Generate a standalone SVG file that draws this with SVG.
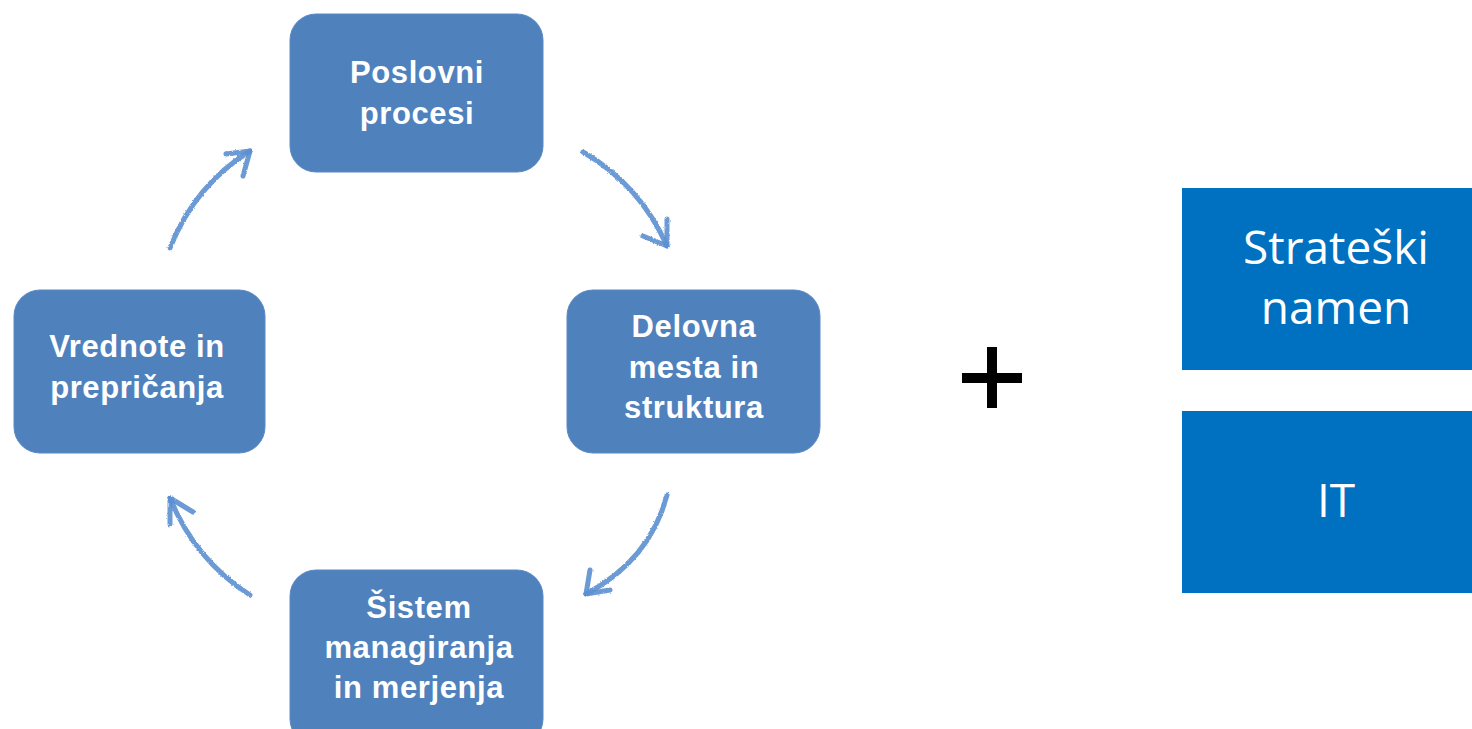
<svg xmlns="http://www.w3.org/2000/svg" width="1472" height="729" viewBox="0 0 1472 729">
  <style>
    .cyc { fill: #4F81BD; stroke: #5a8ac3; stroke-width: 1; }
    .cyc-t { font-family: "Liberation Sans", Arial, sans-serif; font-weight: bold; font-size: 31px; letter-spacing: 0.6px; fill: #ffffff; text-anchor: middle; }
    .side { fill: #0070C0; }
    .side-t { font-family: "Open Sans", "Liberation Sans", sans-serif; font-size: 46px; fill: #ffffff; text-anchor: middle; }
    .arc { fill: none; stroke: #5B8FD0; stroke-width: 5; stroke-linecap: round; stroke-linejoin: round; opacity: 0.9; }
  </style>
  <defs>
    <!-- rough, pencil-like edge for the cycle arrows -->
    <filter id="sketch" x="-20%" y="-20%" width="140%" height="140%">
      <feTurbulence type="fractalNoise" baseFrequency="0.6" numOctaves="2" seed="3" result="n"/>
      <feDisplacementMap in="SourceGraphic" in2="n" scale="2.5" xChannelSelector="R" yChannelSelector="G"/>
    </filter>
  </defs>
  <rect width="1472" height="729" fill="#ffffff"/>

  <g id="poslovni-procesi">
    <rect class="cyc" x="290" y="14" width="253" height="158" rx="26"/>
    <text class="cyc-t" x="417" y="83">Poslovni</text>
    <text class="cyc-t" x="417" y="124">procesi</text>
  </g>

  <g id="delovna-mesta">
    <rect class="cyc" x="567" y="290" width="253" height="163" rx="26"/>
    <text class="cyc-t" x="694" y="337">Delovna</text>
    <text class="cyc-t" x="694" y="378">mesta in</text>
    <text class="cyc-t" x="694" y="418">struktura</text>
  </g>

  <g id="sistem-managiranja">
    <rect class="cyc" x="290" y="570" width="253" height="175" rx="26"/>
    <text class="cyc-t" x="419" y="618">Šistem</text>
    <text class="cyc-t" x="419" y="658">managiranja</text>
    <text class="cyc-t" x="419" y="698">in merjenja</text>
  </g>

  <g id="vrednote">
    <rect class="cyc" x="14" y="290" width="251" height="163" rx="26"/>
    <text class="cyc-t" x="137" y="357">Vrednote in</text>
    <text class="cyc-t" x="137" y="398">prepričanja</text>
  </g>

  <g id="connectors" filter="url(#sketch)">
    <!-- vrednote -> poslovni procesi -->
    <path class="arc" d="M170 248 Q195 185 250 151"/>
    <path class="arc" d="M226 154 L250 151 L243 176"/>
    <!-- poslovni procesi -> delovna mesta -->
    <path class="arc" d="M583 152 Q640 185 667 246"/>
    <path class="arc" d="M667 219 L667 246 L643 236"/>
    <!-- delovna mesta -> sistem -->
    <path class="arc" d="M667 495 Q650 560 586 594"/>
    <path class="arc" d="M590 570 L586 594 L610 590"/>
    <!-- sistem -> vrednote -->
    <path class="arc" d="M250 595 Q195 560 170 498"/>
    <path class="arc" d="M170 524 L170 498 L193 512"/>
  </g>

  <g id="plus">
    <rect x="987" y="347" width="10" height="61" fill="#000000"/>
    <rect x="962" y="373" width="60" height="10" fill="#000000"/>
  </g>

  <g id="strateski-namen">
    <rect class="side" x="1182" y="188" width="290" height="182"/>
    <text class="side-t" x="1336" y="264">Strateški</text>
    <text class="side-t" x="1336" y="324">namen</text>
  </g>

  <g id="it">
    <rect class="side" x="1182" y="411" width="290" height="182"/>
    <text class="side-t" x="1336" y="517">IT</text>
  </g>
</svg>
